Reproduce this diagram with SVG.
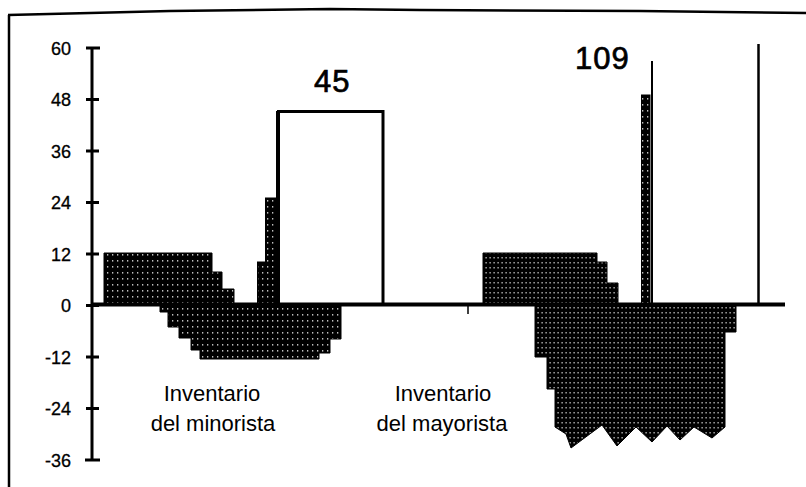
<svg xmlns="http://www.w3.org/2000/svg" width="806" height="487" viewBox="0 0 806 487">
<defs>
<pattern id="screen" x="0" y="0" width="5" height="6" patternUnits="userSpaceOnUse">
<rect width="5" height="6" fill="#000"/>
<rect x="2" y="2" width="1.3" height="1.6" fill="#fff" opacity="0.75"/>
</pattern>
<pattern id="screen2" x="0" y="0" width="4" height="5" patternUnits="userSpaceOnUse">
<rect width="4" height="5" fill="#000"/>
<rect x="1.5" y="2" width="1.2" height="1.5" fill="#fff" opacity="0.8"/>
</pattern>
</defs>
<style>
.lbl{font-family:"Liberation Sans",Arial,sans-serif;font-size:18px;fill:#000;stroke:#000;stroke-width:0.3;text-anchor:end}
.cap{font-family:"Liberation Sans",Arial,sans-serif;font-size:22px;fill:#000;text-anchor:middle}
.big{font-family:"Liberation Sans",Arial,sans-serif;font-size:31px;fill:#000;stroke:#000;stroke-width:0.7;letter-spacing:1px}
.ax{stroke:#000;stroke-width:3;fill:none}
.bar{fill:url(#screen);stroke:#000;stroke-width:1}
.bar2{fill:url(#screen2);stroke:#000;stroke-width:1}
</style>
<rect width="806" height="487" fill="#fff"/>
<g id="frame" fill="none" stroke="#000" stroke-width="2.5">
<polyline points="806,13 640,11 420,10 330,9 170,11 90,13 8,15"/>
<line x1="9" y1="15" x2="9" y2="487"/>
</g>
<g id="axis">
<line class="ax" x1="92" y1="47" x2="92" y2="461"/>
<line class="ax" x1="86" y1="48" x2="100" y2="48"/>
<line class="ax" x1="86" y1="99.5" x2="99" y2="99.5"/>
<line class="ax" x1="86" y1="151" x2="99" y2="151"/>
<line class="ax" x1="86" y1="202.5" x2="99" y2="202.5"/>
<line class="ax" x1="86" y1="254" x2="99" y2="254"/>
<line class="ax" x1="86" y1="305.5" x2="99" y2="305.5"/>
<line class="ax" x1="86" y1="357" x2="99" y2="357"/>
<line class="ax" x1="86" y1="408.5" x2="99" y2="408.5"/>
<line class="ax" x1="85" y1="460" x2="100" y2="460"/>
<text class="lbl" x="71" y="54.5">60</text>
<text class="lbl" x="71" y="106">48</text>
<text class="lbl" x="71" y="157.5">36</text>
<text class="lbl" x="71" y="209">24</text>
<text class="lbl" x="71" y="260.5">12</text>
<text class="lbl" x="71" y="312">0</text>
<text class="lbl" x="71" y="363.5">-12</text>
<text class="lbl" x="71" y="415">-24</text>
<text class="lbl" x="71" y="466.5">-36</text>
</g>
<g id="minorista">
<polygon class="bar" points="104,304 104,253 212,253 212,272 222,272 222,289 234,289 234,304"/>
<polygon class="bar" points="160,305 160,312 168,312 168,327 179,327 179,338 191,338 191,350 200,350 200,359 319,359 319,353 330,353 330,339 341,339 341,305"/>
<rect class="bar" x="257.5" y="262" width="8" height="42"/>
<rect class="bar" x="265.5" y="198" width="11" height="106"/>
<rect x="278.5" y="111.5" width="104.5" height="193" fill="#fff" stroke="#000" stroke-width="3"/>
<line x1="278" y1="111" x2="278" y2="305" stroke="#000" stroke-width="4"/>
<text class="big" x="314" y="92">45</text>
</g>
<g id="mayorista">
<polygon class="bar2" points="483,304 483,253 597,253 597,262 607,262 607,283 618,283 618,304"/>
<polygon class="bar2" points="535,305 535,357 547,357 547,389 555,389 555,427 566,434 571,448 602,425 617,446 636,427 652,442 667,426 680,440 694,427 712,438 725,427 725,332 736,332 736,305"/>
<rect class="bar" x="641.5" y="95" width="8.5" height="209"/>
<line x1="652" y1="61" x2="652" y2="305" stroke="#000" stroke-width="2"/>
<line x1="758.5" y1="44" x2="758.5" y2="305" stroke="#000" stroke-width="2.5"/>
<text class="big" x="575" y="68.5">109</text>
</g>
<g id="baseline">
<line x1="92" y1="304.5" x2="785" y2="304.5" stroke="#000" stroke-width="4"/>
<line x1="468" y1="305" x2="468" y2="314" stroke="#000" stroke-width="1.5"/>
</g>
<g id="labels">
<text class="cap" x="212" y="401">Inventario</text>
<text class="cap" x="213" y="431">del minorista</text>
<text class="cap" x="443" y="401">Inventario</text>
<text class="cap" x="442" y="431">del mayorista</text>
</g>
</svg>
